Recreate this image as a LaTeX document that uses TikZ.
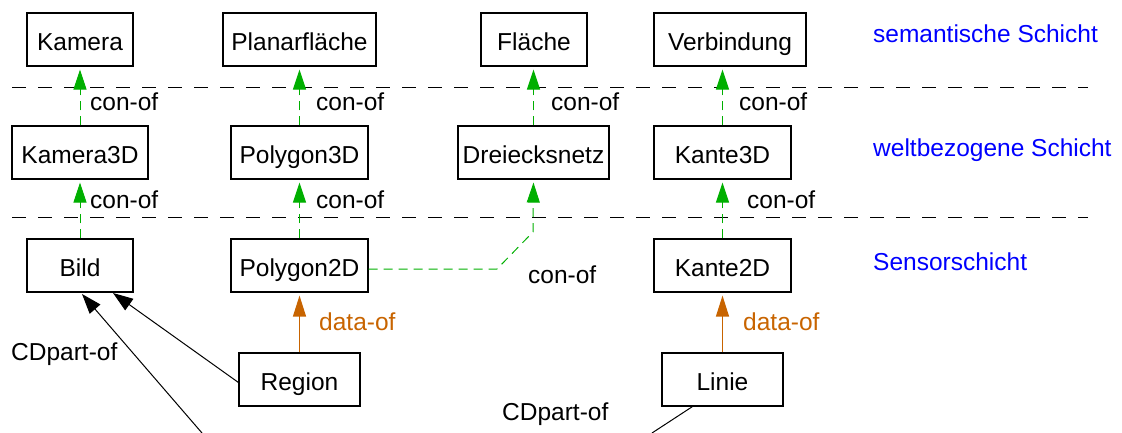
\documentclass[tikz,border=0pt]{standalone}
\usepackage{fontspec}
\setmainfont{Liberation Sans}
\usetikzlibrary{arrows.meta,calc}
\definecolor{congreen}{RGB}{0,175,0}
\definecolor{dataorange}{RGB}{200,100,0}
\definecolor{layerblue}{RGB}{0,0,255}
\begin{document}
\begin{tikzpicture}[x=1pt,y=-1pt,
  font=\fontsize{24.5}{28}\selectfont,
  box/.style={draw,line width=1.1pt,inner sep=0pt,minimum height=53pt,
    text height=22pt,text depth=0pt},
  lbl/.style={anchor=base west,inner sep=0pt},
  layer/.style={lbl,text=layerblue},
  conarrow/.style={congreen,line width=1pt,dash pattern=on 9pt off 6pt,
    -{Triangle[length=20pt,width=13pt]},shorten >=3pt},
  dataarrow/.style={dataorange,line width=1.2pt,
    -{Triangle[length=21pt,width=13pt]},shorten >=3pt},
  partarrow/.style={black,line width=1pt,
    -{Triangle[length=20pt,width=14pt]}},
  separator/.style={black,line width=1pt,dash pattern=on 14pt off 12pt}]
\useasboundingbox (0,0) rectangle (1122,433);

% layer separators
\draw[separator] (12,88) -- (1088,88);
\draw[separator] (12,217) -- (1088,217);

% semantic layer
\node[box,minimum width=106pt] (kamera) at (80,39.5) {Kamera};
\node[box,minimum width=153pt] (planar) at (299.5,39.5) {Planarfläche};
\node[box,minimum width=106pt] (flaeche) at (534,39.5) {Fläche};
\node[box,minimum width=152pt] (verbindung) at (730,39.5) {Verbindung};

% world layer
\node[box,minimum width=136pt] (kamera3d) at (80,152.5) {Kamera3D};
\node[box,minimum width=137pt] (polygon3d) at (299.5,152.5) {Polygon3D};
\node[box,minimum width=151pt] (netz) at (533.5,152.5) {Dreiecksnetz};
\node[box,minimum width=137pt] (kante3d) at (722.5,152.5) {Kante3D};

% sensor layer
\node[box,minimum width=106pt] (bild) at (80,265.5) {Bild};
\node[box,minimum width=137pt] (polygon2d) at (299.5,265.5) {Polygon2D};
\node[box,minimum width=137pt] (kante2d) at (722.5,265.5) {Kante2D};
\node[box,minimum width=121pt] (region) at (299.5,379.5) {Region};
\node[box,minimum width=121pt] (linie) at (722.5,379.5) {Linie};

% layer names
\node[layer] (semlabel) at (873,42.5) {semantische Schicht};
\node[layer] (weltlabel) at (873,156.5) {weltbezogene Schicht};
\node[layer] (sensorlabel) at (873,270) {Sensorschicht};

% con-of links
\draw[conarrow] (kamera3d.north) -- (kamera.south);
\draw[conarrow] (polygon3d.north) -- (polygon3d.north |- planar.south);
\draw[conarrow] (netz.north) -- (netz.north |- flaeche.south);
\draw[conarrow] (kante3d.north) -- (kante3d.north |- verbindung.south);
\draw[conarrow] (bild.north) -- (kamera3d.south);
\draw[conarrow] (polygon2d.north) -- (polygon3d.south);
\draw[conarrow] (kante2d.north) -- (kante3d.south);
\coordinate (bendA) at (497,269);
\coordinate (bendB) at (533,232);
\draw[conarrow] (polygon2d.east |- bendA) -- (bendA) -- (bendB) -- (netz.south);

\node[lbl] (c1) at (90,110.5) {con-of};
\node[lbl] (c2) at (316,110.5) {con-of};
\node[lbl] (c3) at (551,110.5) {con-of};
\node[lbl] (c4) at (739,110.5) {con-of};
\node[lbl] (c5) at (90,208) {con-of};
\node[lbl] (c6) at (316,208) {con-of};
\node[lbl] (c7) at (747,208) {con-of};
\node[lbl] (c8) at (528,283.5) {con-of};

% data-of links
\draw[dataarrow] (region.north) -- (polygon2d.south);
\draw[dataarrow] (linie.north) -- (kante2d.south);
\node[lbl,text=dataorange] (d1) at (319,330) {data-of};
\node[lbl,text=dataorange] (d2) at (743,330) {data-of};

% CDpart-of links
\coordinate (partA) at (202,433);
\coordinate (partB) at (652,433);
\draw[partarrow] ($(region.west)+(0,3)$) -- (113,293);
\draw[partarrow] (partA) -- (82,294);
\draw[black,line width=1pt] ($(linie.south)+(-30,0)$) -- (partB);
\node[lbl] (p1) at (11,360) {CDpart-of};
\node[lbl] (p2) at (502,420) {CDpart-of};
\end{tikzpicture}
\end{document}
